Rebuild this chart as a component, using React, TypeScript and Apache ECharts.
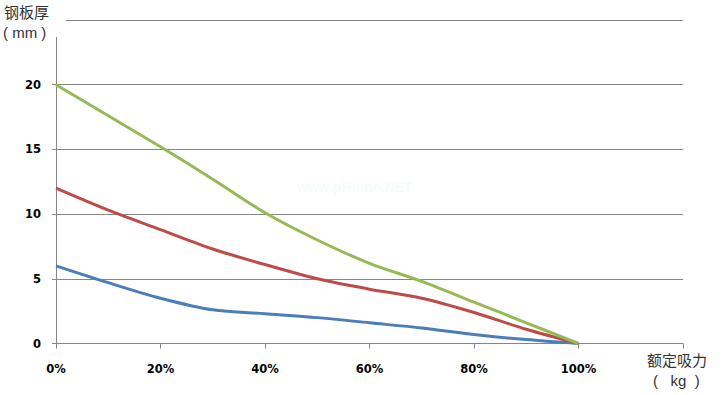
import React, { useEffect, useRef } from "react";
import * as echarts from "echarts";

const xValues = [0, 10, 20, 30, 40, 50, 60, 70, 80, 90, 100];
const blueValues = [6, 4.7, 3.5, 2.6, 2.3, 2.0, 1.6, 1.2, 0.7, 0.3, 0];
const redValues = [12, 10.3, 8.8, 7.3, 6.1, 5.0, 4.2, 3.5, 2.4, 1.1, 0];
const greenValues = [20, 17.6, 15.2, 12.7, 10.1, 8.0, 6.2, 4.8, 3.2, 1.6, 0];
const yTicks = { min: 0, max: 25, interval: 5 };
const xTicks = { min: 0, max: 120, interval: 20 };

const pair = (vals: number[]) => xValues.map((x, i) => [x, vals[i]]);

export default function App() {
  const ref = useRef<HTMLDivElement>(null);
  useEffect(() => {
    document.body.style.margin = "0";
    if (!ref.current) return;
    const chart = echarts.init(ref.current, null, { renderer: "svg" });
    const axisColor = "#868686";
    const labelFont = {
      color: "#000",
      fontWeight: "bold" as const,
      fontSize: 11.5,
      fontFamily: "DejaVu Sans, Verdana, sans-serif",
    };
    const mkSeries = (name: string, vals: number[], color: string) => ({
      name,
      type: "line",
      data: pair(vals),
      smooth: 0.3,
      showSymbol: false,
      lineStyle: { color, width: 3 },
      itemStyle: { color },
    });
    chart.setOption({
      animation: false,
      backgroundColor: "#fff",
      grid: { left: 56, top: 20, right: 41, bottom: 51.5, containLabel: false },
      xAxis: {
        type: "value",
        ...xTicks,
        axisLine: { show: true, lineStyle: { color: axisColor, width: 1 } },
        axisTick: { show: true, length: 5, lineStyle: { color: axisColor } },
        splitLine: { show: false },
        axisLabel: {
          ...labelFont,
          margin: 19,
          formatter: (v: number) => (v > 100 ? "" : v + "%"),
        },
      },
      yAxis: {
        type: "value",
        ...yTicks,
        axisLine: { show: true, lineStyle: { color: axisColor, width: 1 } },
        axisTick: { show: true, length: 4, inside: false, lineStyle: { color: axisColor } },
        splitLine: { show: true, lineStyle: { color: axisColor, width: 1 } },
        axisLabel: {
          ...labelFont,
          margin: 15,
          formatter: (v: number) => (v >= 25 ? "" : String(v)),
        },
      },
      series: [
        mkSeries("s1", blueValues, "#4A7EBB"),
        mkSeries("s2", redValues, "#BE4B48"),
        mkSeries("s3", greenValues, "#98B954"),
      ],
      graphic: [
        { type: "rect", left: 0, top: 0, shape: { width: 66, height: 37 }, style: { fill: "#fff" }, z: 50 },
        {
          type: "text",
          left: 4,
          top: 4,
          z: 51,
          style: { text: "钢板厚", fill: "#333", font: "15px 'Noto Sans CJK SC', sans-serif" },
        },
        {
          type: "text",
          left: 3,
          top: 25,
          z: 51,
          style: { text: "( mm )", fill: "#333", font: "15px 'Liberation Sans', Arial, sans-serif" },
        },
        {
          type: "text",
          left: 647,
          top: 352,
          z: 51,
          style: { text: "额定吸力", fill: "#333", font: "15px 'Noto Sans CJK SC', sans-serif" },
        },
        {
          type: "text",
          left: 653,
          top: 373,
          z: 51,
          style: { text: "(   kg  )", fill: "#333", font: "15px 'Liberation Sans', Arial, sans-serif" },
        },
        {
          type: "text",
          left: 297,
          top: 180,
          z: 1,
          style: { text: "www.pHome.NET", fill: "#f6fbfb", font: "bold 14px 'Liberation Sans', Arial, sans-serif" },
        },
      ],
    });
    return () => chart.dispose();
  }, []);
  return <div ref={ref} style={{ width: 724, height: 395 }} />;
}
